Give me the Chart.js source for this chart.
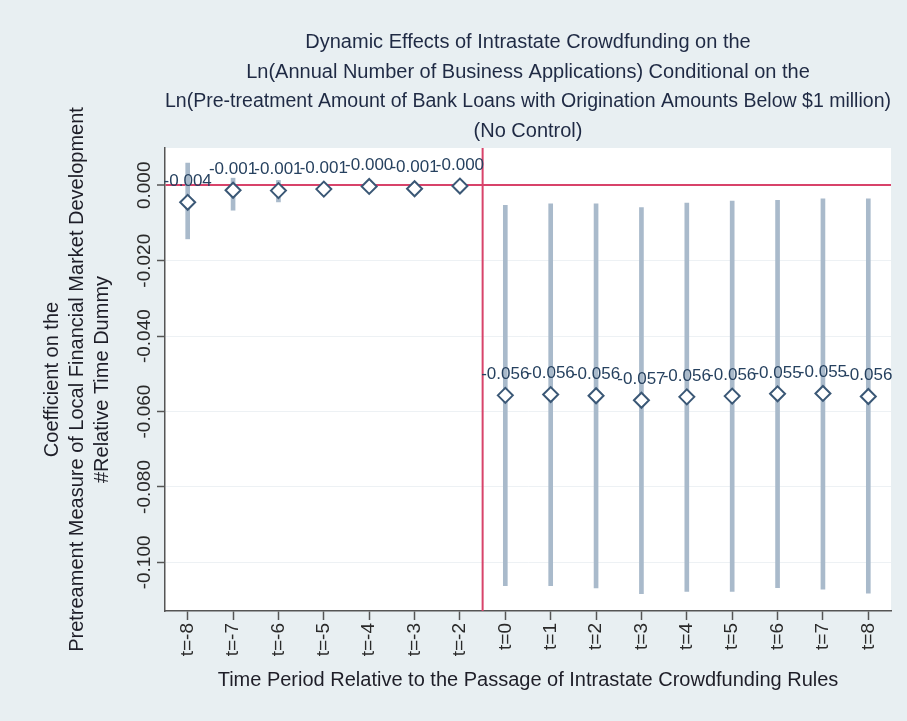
<!DOCTYPE html>
<html>
<head>
<meta charset="utf-8">
<script src="https://cdn.jsdelivr.net/npm/chart.js@4.4.0/dist/chart.umd.min.js"></script>
<style>
    body { margin: 0; background: #e8eff2; }
    canvas { display: block; }
</style>
</head>
<body>
<canvas id="chart_dynamic" width="907" height="721"></canvas>
<script>
// relative time periods (t=-1 is the omitted reference period)
const periods = ['t=-8', 't=-7', 't=-6', 't=-5', 't=-4', 't=-3', 't=-2',
                 't=0', 't=1', 't=2', 't=3', 't=4', 't=5', 't=6', 't=7', 't=8'];

// point estimates
const coefficients = [-0.0045, -0.0013, -0.0014, -0.0010, -0.0003, -0.0009, -0.0002,
                      -0.0557, -0.0555, -0.0558, -0.0570, -0.0561, -0.0559, -0.0553, -0.0552, -0.0560];

// confidence interval bounds
const ciLower = [-0.0142, -0.0066, -0.0044, -0.0020, -0.0013, -0.0022, -0.0012,
                 -0.1062, -0.1062, -0.1068, -0.1083, -0.1077, -0.1077, -0.1067, -0.1071, -0.1082];
const ciUpper = [0.0059, 0.0019, 0.0013, 0.0005, 0.0003, 0.0005, 0.0003,
                 -0.0053, -0.0049, -0.0049, -0.0059, -0.0047, -0.0042, -0.0040, -0.0036, -0.0036];

const yTickValues = [0, -0.02, -0.04, -0.06, -0.08, -0.1];

// rules passed between t=-2 and t=0
const passageBreak = 6.5;

const titleLines = [
    'Dynamic Effects of Intrastate Crowdfunding on the',
    'Ln(Annual Number of Business Applications) Conditional on the',
    'Ln(Pre-treatment Amount of Bank Loans with Origination Amounts Below $1 million)',
    '(No Control)'
];
const xTitle = 'Time Period Relative to the Passage of Intrastate Crowdfunding Rules';
const yTitleLines = [
    'Coefficient on the',
    'Pretreament Measure of Local Financial Market Development',
    '#Relative Time Dummy'
];

const fontFamily = '"Liberation Sans", Arial, sans-serif';
const red = '#d8436a';

const ctx = document.getElementById('chart_dynamic');

// page background + white plot region
const backgroundPlugin = {
    id: 'backgroundPlugin',
    beforeDraw(chart) {
        const c = chart.ctx;
        const a = chart.chartArea;
        c.save();
        c.fillStyle = '#e8eff2';
        c.fillRect(0, 0, chart.width, chart.height);
        c.fillStyle = '#ffffff';
        c.fillRect(a.left, a.top, a.right - a.left, a.bottom - a.top);
        c.restore();
    }
};

// vertical line at the passage of the rules
const breakLinePlugin = {
    id: 'breakLinePlugin',
    beforeDatasetsDraw(chart) {
        const c = chart.ctx;
        const a = chart.chartArea;
        const x = chart.scales.x.getPixelForValue(passageBreak);
        c.save();
        c.strokeStyle = red;
        c.lineWidth = 2;
        c.beginPath();
        c.moveTo(x, a.top);
        c.lineTo(x, a.bottom);
        c.stroke();
        c.restore();
    }
};

// value labels above the markers
const markerLabelPlugin = {
    id: 'markerLabelPlugin',
    afterDatasetsDraw(chart) {
        const meta = chart.getDatasetMeta(1);
        const c = chart.ctx;
        c.save();
        c.font = '17px ' + fontFamily;
        c.fillStyle = '#26415f';
        c.textAlign = 'center';
        c.textBaseline = 'middle';
        meta.data.forEach((pt, i) => {
            c.fillText(coefficients[i].toFixed(3), pt.x, pt.y - 21);
        });
        c.restore();
    }
};

new Chart(ctx, {
    type: 'bar',
    data: {
        labels: periods,
        datasets: [{
            label: 'CI',
            data: periods.map((p, i) => [ciLower[i], ciUpper[i]]),
            backgroundColor: '#a9bacb',
            borderWidth: 0,
            barThickness: 4,
            order: 2
        }, {
            type: 'line',
            label: 'Coefficient',
            data: coefficients,
            showLine: false,
            pointStyle: 'rectRot',
            pointRadius: 7.5,
            pointBorderWidth: 2,
            pointBackgroundColor: '#ffffff',
            pointBorderColor: '#3b5876',
            order: 1
        }]
    },
    options: {
        responsive: false,
        animation: false,
        layout: { padding: { left: 0, right: 16, top: 0, bottom: 0 } },
        plugins: {
            legend: { display: false },
            tooltip: { enabled: false },
            title: {
                display: true,
                fullSize: false,
                text: titleLines,
                color: '#1f2a44',
                font: { family: fontFamily, size: 20, weight: 'normal', lineHeight: 1.475 },
                padding: { top: 28, bottom: 2 }
            }
        },
        scales: {
            x: {
                offset: true,
                grid: {
                    offset: false,
                    drawOnChartArea: false,
                    drawTicks: true,
                    tickLength: 9,
                    tickColor: '#555',
                    tickWidth: 1.5
                },
                border: { color: '#555', width: 1.5 },
                ticks: {
                    autoSkip: false,
                    minRotation: 90,
                    maxRotation: 90,
                    padding: 3,
                    color: '#2a2a2a',
                    font: { family: fontFamily, size: 19 }
                },
                title: {
                    display: true,
                    text: xTitle,
                    color: '#1e1e28',
                    font: { family: fontFamily, size: 20 },
                    padding: { top: 0, bottom: 29 }
                },
                afterFit(scale) { scale.height = 110; }
            },
            y: {
                min: -0.1129,
                max: 0.0099,
                afterBuildTicks(scale) {
                    scale.ticks = yTickValues.map(v => ({ value: v }));
                },
                grid: {
                    color: c => (c.tick && c.tick.value === 0) ? red : '#edf1f4',
                    lineWidth: c => (c.tick && c.tick.value === 0) ? 2 : 1,
                    drawTicks: true,
                    tickLength: 8,
                    tickColor: '#555',
                    tickWidth: 1.5
                },
                border: { color: '#555', width: 1.5 },
                ticks: {
                    minRotation: 90,
                    maxRotation: 90,
                    crossAlign: 'center',
                    padding: -15,
                    color: '#2a2a2a',
                    font: { family: fontFamily, size: 19 },
                    callback: v => Number(v).toFixed(3)
                },
                title: {
                    display: true,
                    text: yTitleLines,
                    color: '#1e1e28',
                    font: { family: fontFamily, size: 20, lineHeight: 1.25 },
                    padding: { top: 39.5, bottom: 0 }
                },
                afterFit(scale) { scale.width = 165; }
            }
        }
    },
    plugins: [backgroundPlugin, breakLinePlugin, markerLabelPlugin]
});
</script>
</body>
</html>
